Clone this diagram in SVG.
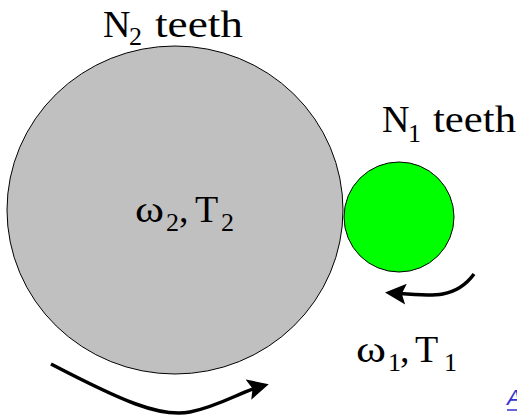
<svg xmlns="http://www.w3.org/2000/svg" width="517" height="416" viewBox="0 0 517 416">
<style>
.t{font-family:"Liberation Serif","Times New Roman",serif;fill:#000;font-size:38px}
.s{font-size:26px}
.conn{fill:none;stroke:#000;stroke-width:3.5}
</style>
<defs>
<marker id="ah" markerWidth="6" markerHeight="6" refX="4" refY="3" orient="auto" markerUnits="strokeWidth">
<path d="M0,0 L6,3 L0,6 L1.2,3 Z" fill="#000"/>
</marker>
</defs>
<rect width="517" height="416" fill="#fff"/>
<g id="gear2">
<ellipse cx="175" cy="210" rx="168" ry="164" fill="#c0c0c0" stroke="#000" stroke-width="1"/>
<text class="t"><tspan x="135" y="222" textLength="29" lengthAdjust="spacingAndGlyphs">ω</tspan><tspan class="s" x="166" y="231">2</tspan><tspan x="179" y="222">,</tspan><tspan x="195" y="222">T</tspan><tspan class="s" x="221" y="231">2</tspan></text>
</g>
<g id="gear1">
<circle cx="399" cy="217" r="55" fill="#00ff00" stroke="#000" stroke-width="1"/>
</g>
<g id="label-n2">
<text class="t"><tspan x="103" y="37">N</tspan><tspan class="s" x="129" y="45">2</tspan><tspan x="155" y="37" textLength="88" lengthAdjust="spacingAndGlyphs">teeth</tspan></text>
</g>
<g id="label-n1">
<text class="t"><tspan x="382" y="132">N</tspan><tspan class="s" x="408" y="142">1</tspan><tspan x="433" y="132" textLength="83" lengthAdjust="spacingAndGlyphs">teeth</tspan></text>
</g>
<g id="label-w1">
<text class="t"><tspan x="356" y="362" textLength="30" lengthAdjust="spacingAndGlyphs">ω</tspan><tspan class="s" x="388" y="371">1</tspan><tspan x="400" y="362">,</tspan><tspan x="415" y="362">T</tspan><tspan class="s" x="444" y="371">1</tspan></text>
</g>
<g id="connectors">
<path class="conn" d="M51,364 C120,400 160,418 190,412 C220,406 240,392 262,386" marker-end="url(#ah)"/>
<path class="conn" d="M474,274 C455,300 430,296 392,293" marker-end="url(#ah)"/>
</g>
<g id="link">
<text x="507" y="405" font-family="Liberation Sans, Arial, sans-serif" font-size="22" font-style="italic" fill="#3333cc">A</text>
<line x1="507" y1="410" x2="517" y2="410" stroke="#3333cc" stroke-width="1.5"/>
</g>
</svg>
